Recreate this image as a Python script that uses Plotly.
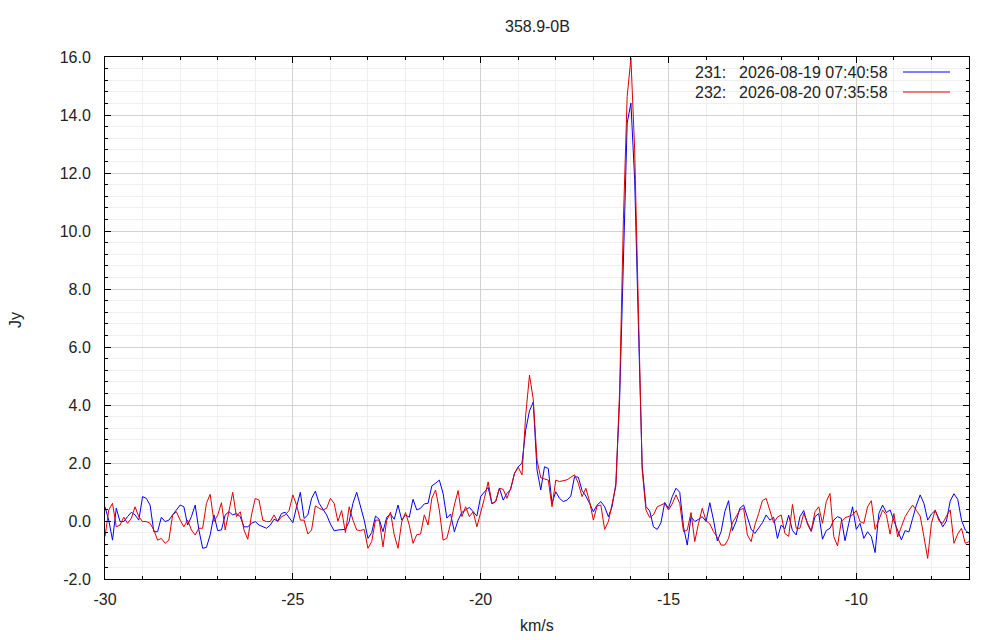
import numpy as np
import plotly.graph_objects as go

# channel axis: first velocity and step (km/s)
V_START = -30.0
V_STEP = 0.1

# scan 231 (2026-08-19), flux in Jy, one row per km/s starting at -30.0
scan_231 = [
    0.49, 0.03, -0.66, 0.44, -0.02, -0.02, 0.15, 0.30, 0.21, 0.03,
    0.84, 0.78, 0.55, -0.37, -0.37, 0.13, -0.02, 0.03, 0.21, 0.38,
    0.55, 0.49, -0.14, 0.15, 0.55, -0.31, -0.94, -0.91, -0.48, 0.21,
    -0.33, -0.31, 0.21, 0.32, 0.21, 0.26, 0.15, -0.20, -0.20, -0.08,
    -0.02, -0.14, -0.20, -0.25, -0.14, 0.06, 0.00, 0.26, 0.30, 0.13,
    -0.06, 0.49, 0.99, 0.09, 0.21, 0.78, 1.03, 0.61, 0.40, 0.21,
    -0.10, -0.34, -0.31, -0.29, -0.29, -0.02, 0.61, 0.99, 0.49, 0.03,
    -0.60, -0.40, 0.17, 0.06, -0.37, 0.13, 0.24, 0.06, 0.55, 0.03,
    0.21, 0.13, 0.75, 0.38, 0.44, 0.59, 0.61, 1.21, 1.30, 1.41,
    0.95, 0.10, 0.24, -0.37, 0.03, 0.30, 0.38, 0.47, 0.32, 0.17,
    0.84, 1.01, 1.16, 0.59, 0.67, 1.13, 0.72, 0.95, 1.09, 1.64,
    1.87, 1.99, 3.14, 3.80, 4.10, 1.76, 1.07, 1.87, 1.81, 0.61,
    1.01, 0.78, 0.67, 0.72, 0.86, 1.53, 1.51, 1.05, 0.86, 0.61,
    0.32, 0.55, 0.67, 0.49, 0.15, 0.50, 1.30, 4.18, 9.35, 13.72,
    14.41, 11.77, 6.70, 1.90, 0.50, 0.35, -0.20, -0.29, -0.06, 0.64,
    0.44, 0.84, 1.13, 0.99, -0.20, -0.83, 0.15, -0.02, 0.06, 0.15,
    -0.02, 0.63, 0.03, -0.69, -0.37, 0.32, 0.70, -0.33, -0.02, 0.44,
    0.55, 0.13, -0.28, -0.43, -0.25, -0.06, 0.21, 0.03, 0.13, -0.60,
    -0.14, -0.27, 0.20, -0.33, -0.48, 0.15, 0.36, -0.11, -0.36, 0.15,
    0.26, -0.63, -0.33, -0.25, 0.03, 0.15, 0.09, -0.68, -0.08, 0.49,
    -0.29, -0.08, -0.60, -0.37, -0.54, -1.09, 0.26, 0.55, 0.29, 0.38,
    0.01, -0.35, -0.65, -0.33, -0.38, 0.09, 0.55, 0.90, 0.61, 0.03,
    0.24, 0.36, 0.10, -0.20, 0.00, 0.69, 0.94, 0.75, 0.03, -0.31,
    -0.43,
]

# scan 232 (2026-08-20)
scan_232 = [
    -0.54, 0.38, 0.61, -0.20, -0.14, 0.13, -0.08, 0.09, 0.49, 0.15,
    -0.02, -0.02, -0.08, -0.31, -0.66, -0.60, -0.77, -0.66, 0.21, 0.32,
    0.03, -0.20, 0.03, -0.31, -0.48, -0.25, -0.25, 0.61, 0.92, -0.02,
    0.20, 0.63, -0.31, 0.32, 0.99, 0.15, 0.32, -0.31, -0.63, 0.21,
    0.78, 0.72, 0.03, -0.02, -0.02, 0.21, -0.02, 0.15, 0.21, 0.36,
    0.90, 0.55, 0.03, 0.03, -0.45, -0.31, 0.52, 0.44, 0.38, 0.44,
    0.78, 0.61, -0.01, 0.36, -0.40, 0.49, 0.03, -0.31, -0.33, -0.29,
    -0.94, -0.71, 0.03, 0.03, -0.89, 0.03, 0.30, -0.48, -0.94, -0.02,
    0.29, -0.14, -0.77, -0.47, -0.45, 0.21, -0.14, 0.78, 1.07, 0.38,
    -0.66, -0.60, -0.08, 0.55, 1.05, 0.15, 0.49, 0.15, 0.32, -0.20,
    0.26, 0.78, 1.35, 0.61, 0.67, 1.13, 1.09, 0.78, 1.13, 1.64,
    1.85, 1.59, 3.66, 5.03, 4.20, 2.10, 1.49, 1.45, 1.41, 0.49,
    1.41, 1.36, 1.39, 1.42, 1.51, 1.59, 1.30, 0.84, 1.13, 0.67,
    0.03, 0.52, 0.55, -0.29, -0.02, 0.55, 1.20, 4.52, 10.39, 14.64,
    15.96, 12.80, 7.05, 1.76, 0.38, 0.12, 0.21, 0.49, 0.55, 0.61,
    0.38, 0.59, 0.90, 0.61, -0.37, -0.31, 0.29, -0.71, -0.08, 0.44,
    0.01, -0.10, -0.37, -0.56, -0.83, -0.83, -0.60, -0.06, 0.15, 0.38,
    0.44, -0.48, -0.71, -0.14, 0.26, 0.70, 0.78, 0.32, -0.06, 0.13,
    0.21, -0.43, -0.53, 0.57, -0.25, -0.25, 0.26, -0.06, -0.34, 0.32,
    0.49, -0.08, 0.67, 0.95, -0.54, -0.86, -0.02, 0.11, 0.15, 0.21,
    0.36, -0.02, -0.08, 0.49, 0.70, -0.29, 0.03, 0.38, 0.21, -0.45,
    0.26, -0.55, -0.20, 0.15, 0.36, 0.55, 0.36, 0.17, -0.54, -1.29,
    -0.08, 0.38, 0.01, -0.08, 0.17, 0.38, -0.77, -0.45, -0.25, -0.77,
    -0.71,
]

legend_ids = ["231:", "232:"]
legend_dates = ["2026-08-19 07:40:58", "2026-08-20 07:35:58"]

x_ticks = [-30, -25, -20, -15, -10]
x_labels = ["-30", "-25", "-20", "-15", "-10"]
y_ticks = [-2, 0, 2, 4, 6, 8, 10, 12, 14, 16]
y_labels = ["-2.0", "0.0", "2.0", "4.0", "6.0", "8.0", "10.0", "12.0", "14.0", "16.0"]

FONT = "Liberation Sans, Arial, sans-serif"
colors = ["#0000ff", "#e00000"]

vel = np.round(V_START + V_STEP * np.arange(len(scan_231)), 2)

fig = go.Figure()
for spec, col in zip([scan_231, scan_232], colors):
    fig.add_trace(go.Scatter(x=vel, y=spec, mode="lines",
                             line=dict(color=col, width=1), showlegend=False))

axis_common = dict(
    ticks="inside", ticklen=6, tickcolor="black", tickwidth=1,
    showline=True, linecolor="black", linewidth=1, mirror="allticks",
    showgrid=True, gridcolor="#d2d2d2", gridwidth=1, zeroline=False,
    tickfont=dict(family=FONT, size=16, color="#222222"),
)

fig.update_xaxes(
    range=[-30, -7], tickmode="array", tickvals=x_ticks, ticktext=x_labels,
    ticklabelstandoff=6,
    minor=dict(tickmode="linear", tick0=-30, dtick=1, ticks="inside", ticklen=3,
               tickcolor="black", showgrid=True, gridcolor="#efefef"),
    **axis_common,
)
fig.update_yaxes(
    range=[-2, 16], tickmode="array", tickvals=y_ticks, ticktext=y_labels,
    ticklabelstandoff=10,
    minor=dict(tickmode="linear", tick0=-2, dtick=0.4, ticks="inside", ticklen=3,
               tickcolor="black", showgrid=True, gridcolor="#efefef"),
    **axis_common,
)

# px -> paper helpers for the 864x522 plot box (reference pixel positions)
def px_x(px):
    return (px - 105) / 864

def px_y(py):
    return (579 - py) / 522

txt = dict(family=FONT, size=16, color="#222222")
annotations = [
    dict(text="358.9-0B", x=0.5, y=px_y(27), xanchor="center", yanchor="middle"),
    dict(text="km/s", x=0.5, y=px_y(625), xanchor="center", yanchor="middle"),
    dict(text="Jy", x=px_x(15), y=px_y(320), xanchor="center", yanchor="middle",
         textangle=-90),
]
shapes = []
for i, (lid, ldate) in enumerate(zip(legend_ids, legend_dates)):
    row_y = px_y(72 + 20 * i)
    annotations.append(dict(text=lid, x=px_x(693), y=row_y, xanchor="left",
                            yanchor="middle"))
    annotations.append(dict(text=ldate, x=px_x(890), y=row_y, xanchor="right",
                            yanchor="middle"))
    shapes.append(dict(type="line", xref="paper", yref="paper",
                       x0=px_x(903), x1=px_x(950), y0=row_y, y1=row_y,
                       line=dict(color=colors[i], width=1)))
for a in annotations:
    a.update(xref="paper", yref="paper", showarrow=False, font=txt)

# the page body adds an 8px offset, so margins are trimmed by 8 on left/top
fig.update_layout(
    width=1000, height=640,
    margin=dict(l=97, r=39, t=49, b=69),
    paper_bgcolor="white", plot_bgcolor="white",
    annotations=annotations, shapes=shapes,
    showlegend=False,
)

fig.write_html("out.html")
